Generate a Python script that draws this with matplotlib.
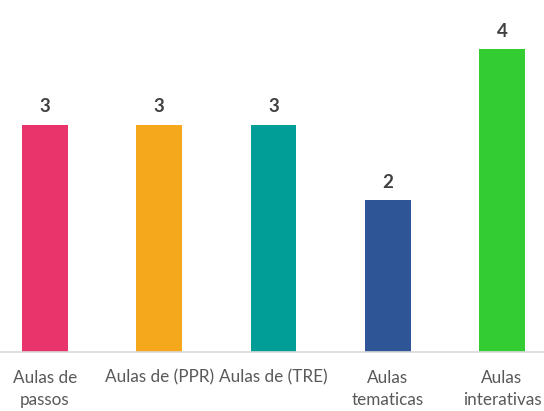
import matplotlib.pyplot as plt

# dados
categorias = ["Aulas de\npassos", "Aulas de (PPR)", "Aulas de (TRE)", "Aulas\ntematicas", "Aulas\ninterativas"]
valores = [3, 3, 3, 2, 4]
cores = ["#E9336B", "#F6A81D", "#009E97", "#2E5596", "#33CC33"]

plt.rcParams['font.family'] = ['Lato', 'DejaVu Sans']

fig = plt.figure(figsize=(5.44, 4.11), dpi=100)
ax = fig.add_axes([0, 0.1445, 1, 0.8555])

x = range(len(categorias))
ax.bar(x, valores, width=0.40, color=cores)

for xi, v in zip(x, valores):
    ax.text(xi, v + 0.24, str(v), ha='center', va='center',
            fontsize=13.5, fontweight='bold', color='#404040')

ax.set_xlim(-0.394, 4.368)
ax.set_ylim(0, 4.65)
ax.set_xticks(list(x))
ax.set_xticklabels(categorias, fontsize=12.3, color='#595959', linespacing=1.5)
ax.tick_params(axis='x', length=0, pad=13)
ax.set_yticks([])
for s in ['top', 'right', 'left']:
    ax.spines[s].set_visible(False)
ax.spines['bottom'].set_color('#D9D9D9')
ax.spines['bottom'].set_linewidth(1.2)

fig.savefig("out.png", dpi=100)
